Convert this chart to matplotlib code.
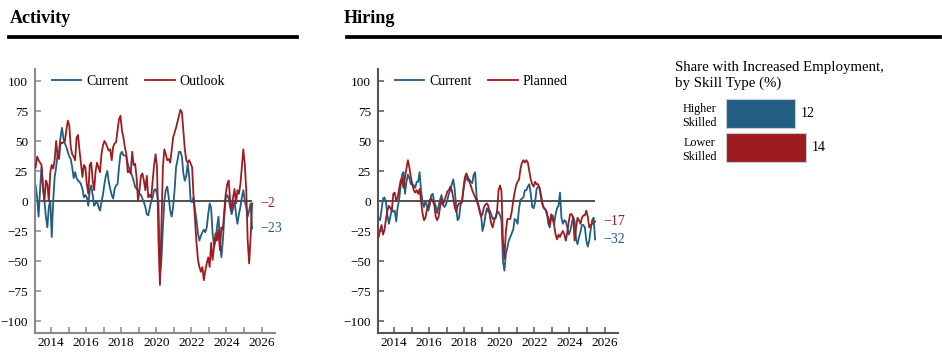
import numpy as np
import pandas as pd
import matplotlib
matplotlib.use("Agg")
import matplotlib.pyplot as plt
from matplotlib.lines import Line2D

plt.rcParams['font.family'] = ['Liberation Serif', 'DejaVu Serif']

# monthly survey readings, Feb 2013 - Jun 2025
months = pd.date_range('2013-02-01', '2025-06-01', freq='MS')

activity_current = [
    13, 3, -13, 9, 28, 12, 0, -13, -22, -5, 0,
    -30, 0, 20, 28, 39, 42, 53, 61, 52, 48, 45, 41,
    37, 35, 28, 19, 24, 19, 17, 16, 14, 10, 3, 5,
    3, -4, 9, 13, 5, -4, -2, 0, -5, -8, -1, 5,
    14, 21, 25, 16, 10, 5, 2, 10, 13, 14, 28, 39,
    41, 38, 38, 37, 31, 27, 24, 21, 17, 12, 10, 9,
    6, 5, 2, -1, -5, -11, -12, -6, 0, 3, 9, 10,
    6, -2, -63, -49, -22, 0, 9, 12, 3, -8, -13, -5,
    9, 28, 34, 41, 41, 37, 23, 17, 21, 31, 20, 0,
    -1, 3, -8, -16, -27, -33, -29, -26, -24, -26, -22, -11,
    -2, -6, -27, -38, -33, -22, -13, -33, -47, -33, -13, 3,
    5, 2, -5, -11, -6, 0, -11, -19, -11, -5, 3, 9,
    0, -5, -13, -8, -2, -23,
]
activity_outlook = [
    28, 37, 34, 32, 30, 12, 0, 17, 14, 0, 24,
    30, 27, 34, 50, 38, 35, 49, 48, 49, 50, 59, 67,
    63, 45, 39, 37, 34, 53, 55, 42, 31, 20, 30, 28,
    14, 6, 30, 32, 17, 9, 25, 32, 28, 24, 39, 46,
    50, 48, 45, 42, 43, 34, 45, 48, 49, 59, 68, 71,
    59, 53, 45, 39, 24, 25, 23, 41, 30, 31, 20, 0,
    9, 21, 23, 17, 9, 21, 3, 5, 3, 17, 30, 39,
    28, -33, -70, -22, 28, 43, 39, 34, 35, 32, 42, 53,
    57, 61, 66, 71, 76, 74, 59, 43, 34, 32, 34, 31,
    28, 3, -16, -35, -49, -55, -59, -55, -66, -58, -52, -47,
    -55, -35, -49, -38, -27, -33, -24, -41, -22, -24, -8, 6,
    14, 17, 0, -8, 3, 10, -2, 9, 6, 14, 28, 43,
    31, 9, -33, -52, -30, -2,
]
hiring_current = [
    -14, -16, -7, 2, 3, -1, -12, -19, -13, -7, -9,
    -8, -17, -5, 1, 12, 22, 24, 6, 16, 22, 19, 14,
    14, 13, 11, 16, 16, 24, 9, -1, -5, 0, -4, -8,
    -3, 5, 6, -1, -4, -10, -4, 1, 5, -3, -5, -3,
    1, 6, 9, 14, 18, 10, -5, -16, -14, -3, 0, 9,
    17, 20, 17, 18, 16, 15, 22, 24, 3, -2, -7, -11,
    -25, -20, -12, -6, -9, -8, -11, -15, -14, -14, -10, -9,
    -12, -16, -50, -58, -44, -39, -33, -30, -27, -24, -15, -16,
    -19, -6, 1, 2, 3, 9, 9, 12, 14, 6, -5, -6,
    -1, 10, 12, 11, 3, -3, -6, -7, -9, -19, -22, -14,
    -12, -19, -11, -6, -4, 7, -14, -19, -16, -17, -22, -28,
    -25, -19, -13, -17, -32, -36, -30, -26, -20, -20, -22, -33,
    -38, -33, -24, -16, -14, -32,
]
hiring_planned = [
    -30, -24, -20, -28, -24, -15, -8, -4, -6, -8, 6,
    7, 0, 3, 10, 17, 19, 11, 20, 27, 34, 28, 20,
    14, 9, 7, 9, 6, 10, 0, -10, -16, -14, -7, -4,
    1, 2, 0, -3, -13, -16, -13, -5, 1, -3, 1, 4,
    8, 9, 12, 9, 3, -5, -9, -4, -2, -2, -1, 11,
    20, 23, 20, 16, 13, 9, 6, 3, 0, -3, -9, -13,
    -11, -5, -3, -2, -4, -12, -19, -22, -16, -14, -8, 9,
    13, 8, -33, -48, -25, -15, -15, -15, -9, 0, 7, 13,
    16, 18, 27, 32, 34, 32, 34, 32, 25, 18, 14, 12,
    16, 14, 14, 11, 5, -2, -6, -7, -11, -14, -20, -11,
    -15, -20, -28, -32, -28, -30, -27, -25, -28, -33, -26, -17,
    -11, -11, -14, -33, -22, -14, -16, -19, -14, -12, -12, -8,
    -13, -22, -20, -19, -18, -17,
]

skill_labels = ['Higher\nSkilled', 'Lower\nSkilled']
skill_share = [12, 14]

BLUE = '#215e82'
RED = '#9c1c1f'

t = months.year + (months.month - 0.5) / 12.0

W, H = 942, 362


def box(x0, y0, x1, y1):
    # pixel box -> figure fraction rect
    return [x0 / W, 1 - y1 / H, (x1 - x0) / W, (y1 - y0) / H]


fig = plt.figure(figsize=(W / 100, H / 100), dpi=100)


def line_panel(rect, cur, other, other_name, spine_col):
    ax = fig.add_axes(rect)
    ax.hlines(0, t[0], t[-1], color='#333333', lw=1.2, zorder=1)
    ax.plot(t, cur, color=BLUE, lw=1.3, label='Current', zorder=2)
    ax.plot(t, other, color=RED, lw=1.3, label=other_name, zorder=3)
    ax.set_xlim(2013.088, 2026.764)
    ax.set_ylim(-110, 110)
    ax.set_yticks(np.arange(-100, 101, 25))
    ax.set_xticks(np.arange(2014, 2027, 2))
    ax.set_xticks(np.arange(2015, 2027, 2), minor=True)
    for s in ['top', 'right']:
        ax.spines[s].set_visible(False)
    for s in ['left', 'bottom']:
        ax.spines[s].set_color(spine_col)
        ax.spines[s].set_linewidth(1.5)
    ax.tick_params(which='both', direction='in', length=4.5, width=1.1,
                   color=spine_col, labelsize=9.5)
    ax.tick_params(axis='y', pad=5)
    ax.tick_params(axis='x', pad=3)
    ax.legend(loc='center left', bbox_to_anchor=(0.072, 0.9545), ncol=2,
              frameon=False, fontsize=10, handlelength=2.1, handletextpad=0.35,
              columnspacing=1.2, borderpad=0, borderaxespad=0)
    for vals, col in [(other, RED), (cur, BLUE)]:
        v = vals[-1]
        ax.text(t[-1] + 0.45, v, str(v).replace('-', '\u2212'), color=col,
                fontsize=10, va='center', ha='left')
    return ax


line_panel(box(35, 69, 275, 333), activity_current, activity_outlook, 'Outlook', '#8a8a8a')
line_panel(box(378, 69, 618, 333), hiring_current, hiring_planned, 'Planned', '#555555')

# section headers with heavy rules
fig.text(10 / W, 1 - 23 / H, 'Activity', fontsize=13, fontweight='bold', va='baseline')
fig.text(344 / W, 1 - 23 / H, 'Hiring', fontsize=13, fontweight='bold', va='baseline')
fig.add_artist(Line2D([9 / W, 297 / W], [1 - 36.5 / H] * 2, color='black', lw=2.7))
fig.add_artist(Line2D([347 / W, 940 / W], [1 - 36.5 / H] * 2, color='black', lw=2.7))

# skill bar panel
fig.text(675 / W, 1 - 71 / H, 'Share with Increased Employment,', fontsize=10.7, va='baseline')
fig.text(675 / W, 1 - 87 / H, 'by Skill Type (%)', fontsize=10.7, va='baseline')

axb = fig.add_axes(box(726, 97, 869, 164.4))
pos = np.arange(len(skill_share))
axb.barh(pos, skill_share, height=0.86, color=[BLUE, RED], edgecolor='#c3ccd3', lw=0.8)
axb.set_xlim(0, 25)
axb.set_ylim(1.5, -0.5)
axb.set_yticks(pos)
axb.set_yticklabels(skill_labels, fontsize=8.7, ha='center', multialignment='center')
axb.set_xticks([])
axb.tick_params(axis='y', length=0, pad=19)
for s in axb.spines.values():
    s.set_visible(False)
for p, v in zip(pos, skill_share):
    axb.text(v + 1.05, p, str(v), fontsize=10, va='center', ha='left')

fig.savefig('out.png', dpi=100)
